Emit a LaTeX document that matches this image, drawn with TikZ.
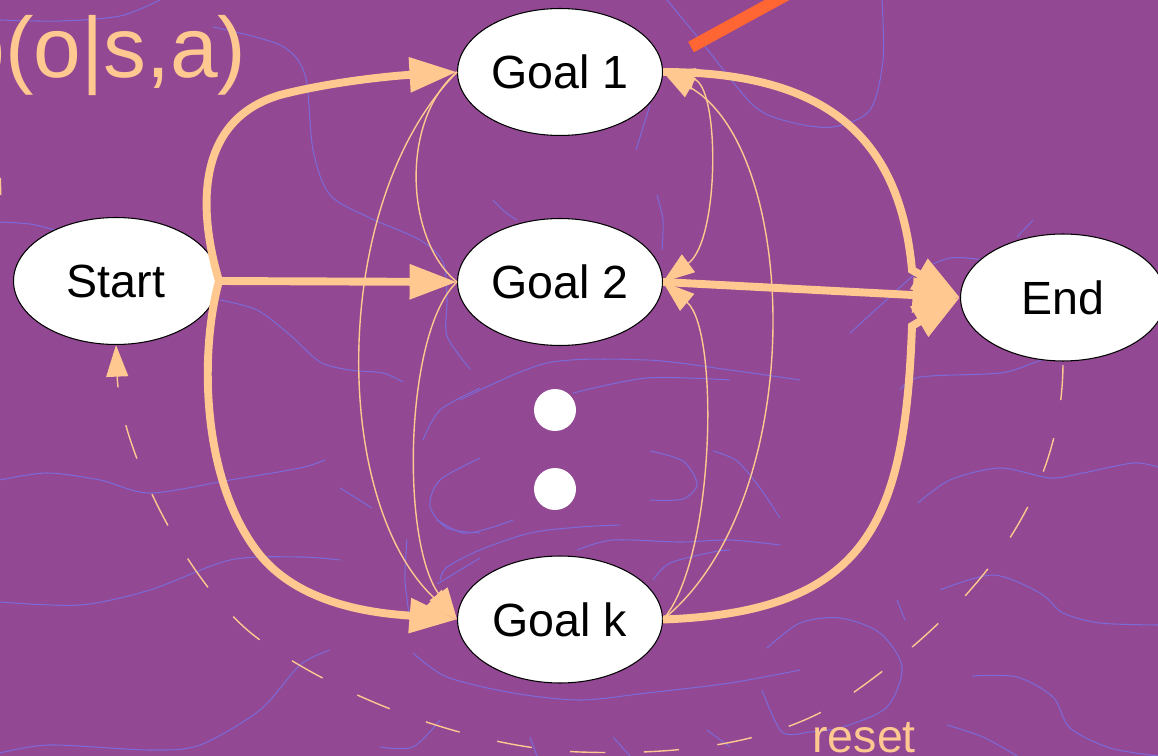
\documentclass[tikz,border=0pt]{standalone}
\usepackage{fontspec}
\setmainfont{Liberation Sans}
\usetikzlibrary{arrows.meta,shapes.geometric}
\definecolor{bgpurple}{RGB}{146,72,146}
\definecolor{bgl}{RGB}{125,105,215}
\definecolor{peach}{RGB}{255,200,145}
\definecolor{barorange}{RGB}{255,102,51}
\tikzset{
  bgline/.style={draw=bgl, line width=0.6pt},
  statenode/.style={ellipse, draw=black, line width=0.6pt, fill=white,
    minimum width=4.1cm, minimum height=2.54cm, inner sep=0pt,
    font=\fontsize{26.5pt}{30pt}\selectfont},
  dotnode/.style={circle, fill=white, minimum size=0.84cm, inner sep=0pt},
  thickarrow/.style={draw=peach, line width=4.5pt, -{Triangle[length=27pt,width=19pt]}},
  thinline/.style={draw=peach, line width=0.8pt},
  thinhead/.tip={Triangle[length=18pt,width=12.5pt]},
  resetline/.style={draw=peach, line width=0.8pt, dash pattern=on 20pt off 22pt, dash phase=-2pt},
  peachtext/.style={text=peach, inner sep=0pt, anchor=base west}
}
\begin{document}
\begin{tikzpicture}[x=0.02cm,y=-0.02cm]
\useasboundingbox (0,0) rectangle (1158,756);
\clip (0,0) rectangle (1158,756);
\fill[bgpurple] (0,0) rectangle (1158,756);

% background texture
\draw[bgline] plot[smooth] coordinates {(0,20) (60,21) (120,16) (160,0)};
\draw[bgline] plot[smooth] coordinates {(213,27) (280,45) (305,75) (313,150) (330,195) (370,218) (420,240) (443,262) (447,300) (447,336) (470,369)};
\draw[bgline] plot[smooth] coordinates {(0,222) (30,224) (55,230)};
\draw[bgline] plot[smooth] coordinates {(220,300) (257,310) (290,335) (320,362) (350,370) (383,373) (403,382)};
\draw[bgline] plot[smooth] coordinates {(0,480) (47,473) (100,480) (150,493) (230,480) (300,468) (325,460)};
\draw[bgline] plot[smooth] coordinates {(0,602) (80,605) (150,590) (230,560) (300,557) (340,560)};
\draw[bgline] plot[smooth] coordinates {(0,753) (50,745) (150,750) (200,745) (260,710) (300,665) (330,650)};
\draw[bgline] plot[smooth] coordinates {(667,0) (700,40) (753,105) (790,122) (833,127) (870,110) (883,60) (882,0)};
\draw[bgline] (650,105) -- (636,150);
\draw[bgline] plot[smooth] coordinates {(850,333) (883,303) (917,273) (950,258) (983,260)};
\draw[bgline] (1033,220) -- (1017,237);
\draw[bgline] plot[smooth] coordinates {(900,390) (920,377) (1000,373) (1033,363) (1047,358)};
\draw[bgline] plot[smooth] coordinates {(918,503) (950,480) (1000,468) (1050,478) (1083,473) (1133,463) (1158,467)};
\draw[bgline] plot[smooth] coordinates {(940,590) (993,575) (1040,593) (1063,613) (1100,623) (1158,625)};
\draw[bgline] plot[smooth] coordinates {(767,648) (800,623) (840,618) (880,633) (902,667) (887,707) (843,727) (810,732) (782,732) (762,690)};
\draw[bgline] plot[smooth] coordinates {(972,676) (1017,677) (1053,697) (1070,728) (1110,748) (1158,756)};
\draw[bgline] plot[smooth] coordinates {(947,725) (983,737) (1017,756)};
\draw[bgline] (897,600) -- (905,620);
\draw[bgline] plot[smooth] coordinates {(440,580) (447,567) (480,550) (530,533) (580,527) (620,525)};
\draw[bgline] plot[smooth] coordinates {(437,520) (463,533) (490,528) (513,520)};
\draw[bgline] plot[smooth] coordinates {(413,653) (447,677) (513,693) (580,700) (647,693) (730,683) (800,670)};
\draw[bgline] plot[smooth] coordinates {(653,580) (670,563) (713,552) (730,550)};
\draw[bgline] plot[smooth] coordinates {(577,550) (613,540) (680,542) (730,540) (780,545)};
\draw[bgline] plot[smooth] coordinates {(460,400) (547,363) (647,360) (730,370) (800,380)};
\draw[bgline] plot[smooth] coordinates {(573,393) (647,378) (730,380)};
\draw[bgline] plot[smooth] coordinates {(713,451) (737,461) (760,488) (780,518)};
\draw[bgline] plot[smooth] coordinates {(650,451) (683,461) (697,484) (683,499) (650,500)};
\draw[bgline] plot[smooth] coordinates {(423,440) (440,410) (480,388)};
\draw[bgline] plot[smooth] coordinates {(480,458) (440,480) (430,506) (447,528) (480,533)};
\draw[bgline] (340,488) -- (372,508);
\draw[bgline] (480,558) -- (437,584);
\draw[bgline] plot[smooth] coordinates {(407,539) (405,580) (410,620)};
\draw[bgline] plot[smooth] coordinates {(493,200) (505,212) (517,220)};
\draw[bgline] plot[smooth] coordinates {(657,195) (663,220) (662,250)};
\draw[bgline] plot[smooth] coordinates {(380,747) (413,747) (440,720)};
\draw[bgline] (530,737) -- (537,756);
\draw[bgline] (613,737) -- (630,756);
\draw[bgline] (707,730) -- (730,747);

% orange bar
\draw[barorange, line width=6.8pt] (691,47) -- (830,-29);

% cut-off text
\node[peachtext, font=\fontsize{48.8pt}{56pt}\selectfont] (prob) at (-43,78) {p(o|s,a)};
\draw[peach, line width=1.2pt] (0,178) -- (0.4,195);

% nodes
\node[statenode] (start) at (116,281) {Start};
\node[statenode] (goal1) at (560,72) {Goal 1};
\node[statenode] (goal2) at (560,282) {Goal 2};
\node[statenode] (goalk) at (560,619.5) {Goal k};
\node[statenode] (end) at (1063,297.5) {End};
\node[dotnode] (dot1) at (555,410) {};
\node[dotnode] (dot2) at (555,489) {};

% thin transitions between goals
\draw[thinline] (goal1.west) .. controls (400,120) and (405,240) .. (goal2.west);
\draw[thinline, -{thinhead}] (goal2.west) .. controls (405,330) and (400,540) .. (goalk.west);
\draw[thinline, -{thinhead}] (goal1.west) .. controls (330,200) and (330,500) .. (goalk.west);
\draw[thinline, {thinhead}-{thinhead}] (goal2.east) .. controls (720,240) and (720,85) .. (goal1.east);
\draw[thinline, -{thinhead}] (goalk.east) .. controls (715,560) and (720,330) .. (goal2.east);
\draw[thinline, -{thinhead}] (goalk.east) .. controls (810,500) and (800,150) .. (goal1.east);

% thick transitions
\draw[thickarrow] (start.east) .. controls (198,210) and (195,120) .. (280,95) .. controls (330,82) and (390,76) .. (goal1.west);
\draw[thickarrow] (start.east) -- (goal2.west);
\draw[thickarrow] (start.east) .. controls (200,350) and (200,480) .. (260,555) .. controls (305,610) and (390,614) .. (goalk.west);
\draw[thickarrow] (goal1.east) .. controls (830,72) and (900,140) .. (912,270) -- (end.west);
\draw[thickarrow] (goal2.east) -- (end.west);
\draw[thickarrow] (goalk.east) .. controls (870,612) and (905,520) .. (912,326) -- (end.west);

% reset
\draw[resetline, -{thinhead}] (end.south) .. controls (1063,480) and (1000,590) .. (850,695)
  .. controls (775,747) and (670,755) .. (580,752)
  .. controls (490,749) and (360,710) .. (260,640)
  .. controls (190,590) and (120,450) .. (start.south);
\node[peachtext, font=\fontsize{26.5pt}{30pt}\selectfont] (resetlabel) at (812,752) {reset};
\end{tikzpicture}
\end{document}
